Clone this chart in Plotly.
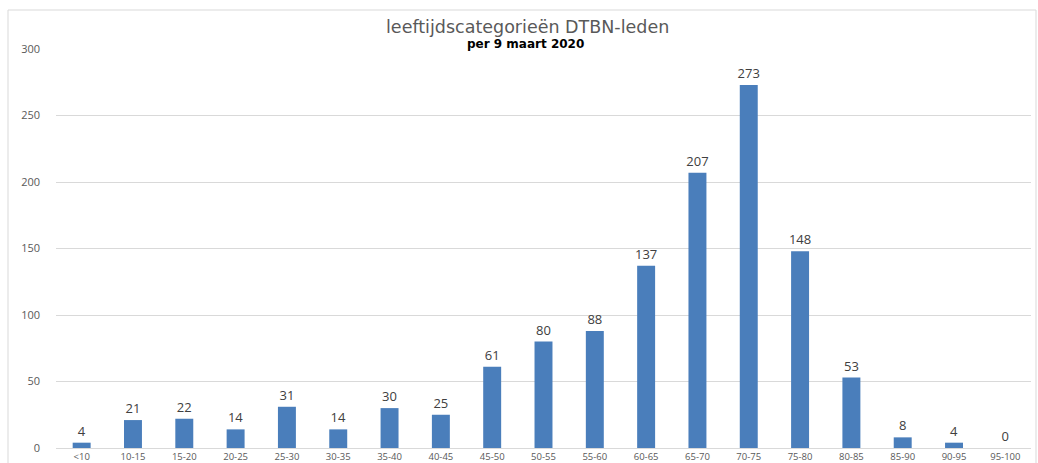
import plotly.graph_objects as go

categories = ["<10", "10-15", "15-20", "20-25", "25-30", "30-35", "35-40", "40-45", "45-50",
              "50-55", "55-60", "60-65", "65-70", "70-75", "75-80", "80-85", "85-90", "90-95", "95-100"]
members = [4, 21, 22, 14, 31, 14, 30, 25, 61, 80, 88, 137, 207, 273, 148, 53, 8, 4, 0]
y_ticks = [0, 50, 100, 150, 200, 250, 300]

title_text = "leeftijdscategorieën DTBN-leden"
subtitle_text = "per 9 maart 2020"

FONT = "Open Sans, Lato, sans-serif"
TFONT = "DejaVu Sans, Open Sans, sans-serif"

fig = go.Figure(go.Bar(
    x=categories, y=members,
    marker=dict(color="#4a7ebb", line=dict(width=0)),
    text=[str(v) for v in members], textposition="outside",
    textfont=dict(size=13, color="#404040", family=FONT),
    constraintext="none",
    cliponaxis=False,
))

W, H = 975, 399
L, T = 56, 49

fig.update_layout(
    width=1038, height=463,
    margin=dict(l=L, r=1038 - L - W, t=T, b=463 - T - H, autoexpand=False),
    paper_bgcolor="white", plot_bgcolor="white",
    bargap=0.65,
    showlegend=False,
    font=dict(family=FONT, color="#595959"),
    xaxis=dict(showgrid=False, showline=True, linecolor="#d9d9d9", linewidth=1,
               tickfont=dict(size=9.5, color="#595959"), ticks="", ticklabelstandoff=0,
               automargin=False),
    yaxis=dict(range=[0, 300], tickvals=y_ticks, showgrid=True, gridcolor="#d9d9d9",
               gridwidth=1, zeroline=False, showline=False, automargin=False,
               tickfont=dict(size=11, color="#595959"), ticklabelstandoff=15),
    annotations=[
        dict(text=title_text, xref="paper", yref="paper", x=(527 - L) / W,
             y=1 + (T - 27) / H, xanchor="center", yanchor="middle", showarrow=False,
             font=dict(size=17.5, color="#595959", family=TFONT)),
        dict(text="<b>" + subtitle_text + "</b>", xref="paper", yref="paper",
             x=(525 - L) / W, y=1 + (T - 44) / H, xanchor="center", yanchor="middle",
             showarrow=False, font=dict(size=12, color="#000000", family=TFONT)),
    ],
)

fig.add_shape(type="rect", xref="paper", yref="paper",
              x0=(8 - L) / W, x1=(1036 - L) / W, y0=-0.1, y1=1 + (T - 10) / H,
              line=dict(color="#d9d9d9", width=1), fillcolor="rgba(0,0,0,0)", layer="below")

fig.write_html("out.html", config={"displayModeBar": False},
               post_script="document.body.style.margin='0';document.body.style.padding='0';")
